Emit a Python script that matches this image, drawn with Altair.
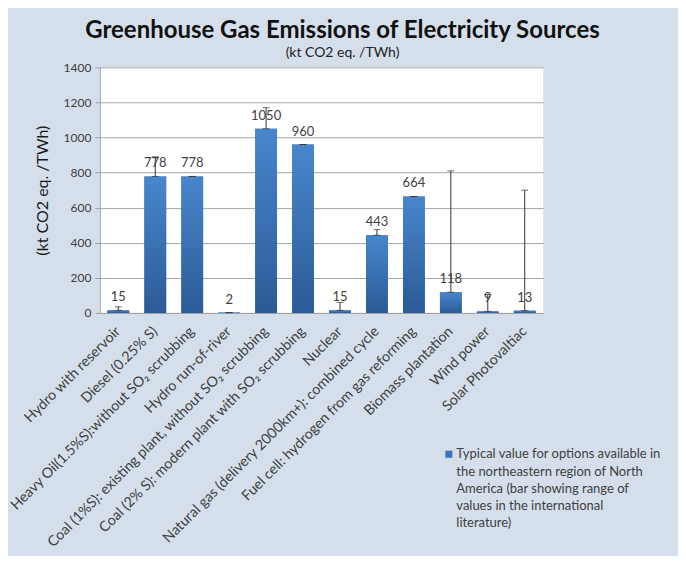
import altair as alt
import pandas as pd

categories = [
    "Hydro with reservoir",
    "Diesel (0.25% S)",
    "Heavy Oil(1.5%S):without SO₂ scrubbing",
    "Hydro run-of-river",
    "Coal (1%S): existing plant, without SO₂ scrubbing",
    "Coal (2% S): modern plant with SO₂ scrubbing",
    "Nuclear",
    "Natural gas (delivery 2000km+): combined cycle",
    "Fuel cell: hydrogen from gas reforming",
    "Biomass plantation",
    "Wind power",
    "Solar Photovaltiac",
]
values = [15, 778, 778, 2, 1050, 960, 15, 443, 664, 118, 9, 13]
range_low = [15, 778, 778, 2, 1050, 960, 15, 443, 664, 118, 9, 13]
range_high = [35, 890, 778, 2, 1170, 960, 60, 475, 664, 810, 105, 700]
y_ticks = [0, 200, 400, 600, 800, 1000, 1200, 1400]
series_name = ("Typical value for options available in|the northeastern region of North|"
               "America (bar showing range of|values in the international|literature)")

df = pd.DataFrame({
    "cat": categories,
    "val": values,
    "lo": range_low,
    "hi": range_high,
    "series": [series_name] * len(categories),
})

FONT = "Lato"
TXT = "#404040"

x_axis = alt.Axis(labelAngle=-45, labelAlign="right", labelBaseline="middle",
                  labelFontSize=14.3, labelColor=TXT, labelFont=FONT,
                  labelLimit=400, labelPadding=16, ticks=False,
                  domainColor="#a0a0a0", labelOverlap=False, title=None)
x_scale = alt.Scale(paddingInner=0.41, paddingOuter=0.205)
y_scale = alt.Scale(domain=[0, 1400], nice=False)
y_axis = alt.Axis(values=y_ticks, grid=True, format="d", labelOverlap=False,
                  gridColor="#a6a6a6", domainColor="#a0a0a0", tickColor="#a0a0a0",
                  tickSize=5, labelFontSize=12, labelColor=TXT, labelFont=FONT,
                  labelPadding=4, title="(kt CO2 eq. /TWh)", titleFont=FONT,
                  titleFontSize=16, titleFontWeight="normal", titleColor="#1a1a1a",
                  titlePadding=13)


def X():
    return alt.X("cat:N", sort=categories, scale=x_scale, axis=x_axis, title=None)


def Y(field):
    return alt.Y(field, scale=y_scale, axis=y_axis, title="(kt CO2 eq. /TWh)")


base = alt.Chart(df)

bars_legend = base.mark_bar().encode(
    x=X(),
    y=Y("val:Q"),
    color=alt.Color("series:N", scale=alt.Scale(range=["#3c74ba"]),
                    legend=alt.Legend(title=None, orient="none", legendX=343, legendY=375,
                                      labelExpr="split(datum.label, '|')",
                                      labelFont=FONT, labelFontSize=13, labelColor=TXT,
                                      labelBaseline="top", labelLimit=400,
                                      symbolType="M-1,0.7H1V2.7H-1Z", symbolSize=50,
                                      symbolStrokeWidth=0, labelOffset=1)),
)

grad = alt.Gradient(
    gradient="linear",
    stops=[alt.GradientStop(color="#4886cc", offset=0),
           alt.GradientStop(color="#2b5b97", offset=1)],
    x1=0, x2=0, y1=0, y2=1,
)
bars_grad = base.mark_bar(color=grad).encode(x=X(), y=Y("val:Q"))

rule = base.mark_rule(color="#333333", strokeWidth=1).encode(
    x=X(), y=Y("lo:Q"), y2="hi:Q",
)
cap_hi = base.mark_tick(color="#333333", orient="horizontal", size=7, thickness=1).encode(
    x=X(), y=Y("hi:Q"),
)
cap_lo = base.mark_tick(color="#333333", orient="horizontal", size=7, thickness=1).encode(
    x=X(), y=Y("lo:Q"),
)
labels = base.mark_text(baseline="bottom", dy=-6, font=FONT, fontSize=13, color=TXT).encode(
    x=X(), y=Y("val:Q"), text=alt.Text("val:Q"),
)

chart = alt.layer(bars_legend, bars_grad, rule, cap_hi, cap_lo, labels).properties(
    width=444,
    height=246,
    autosize=alt.AutoSizeParams(type="none"),
    padding={"left": 92, "top": 59, "right": 135, "bottom": 243},
    background="#d5dfeb",
    title=alt.TitleParams(
        text="Greenhouse Gas Emissions of Electricity Sources",
        subtitle="(kt CO2 eq. /TWh)",
        anchor="middle", frame="group", dx=21, dy=3, offset=4,
        font=FONT, fontSize=24, fontWeight="bold", color="#111111",
        subtitleFont=FONT, subtitleFontSize=14, subtitleColor="#222222",
        subtitlePadding=3,
    ),
).configure(
    style={"guide-label": {"lineHeight": 17.3}}
).configure_view(stroke=None, fill="white")

chart.save("out.html", embed_options={"renderer": "svg", "actions": False})
